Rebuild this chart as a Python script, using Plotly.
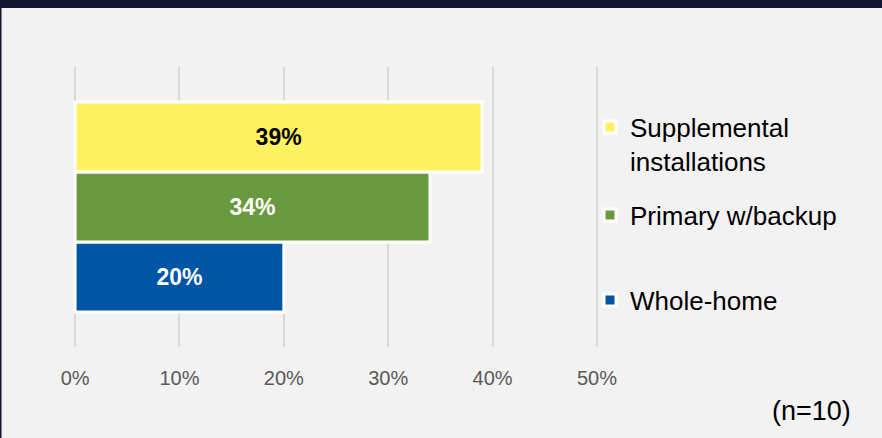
import plotly.graph_objects as go

# Data
series_names = ["Whole-home", "Primary w/backup", "Supplemental<br>installations"]
series_values = [20, 34, 39]
series_colors = ["#0055A5", "#6A9A40", "#FFF15F"]
label_colors = ["#FFFFFF", "#FFFFFF", "#000000"]
legend_ids = ["legend3", "legend2", "legend"]
category = ["All"]
tick_vals = [0, 10, 20, 30, 40, 50]
tick_labels = ["0%", "10%", "20%", "30%", "40%", "50%"]
note_text = "(n=10)"

FONT = "Liberation Sans, Arial, sans-serif"

fig = go.Figure()
for name, val, col, lc, lg in zip(series_names, series_values, series_colors, label_colors, legend_ids):
    fig.add_trace(go.Bar(
        y=category, x=[val], name=name, orientation="h",
        marker=dict(color=col, line=dict(color="#FFFFFF", width=3)),
        text=[f"{val}%"], textposition="inside", insidetextanchor="middle",
        textangle=0,
        textfont=dict(family=FONT, size=23, color=lc, weight="bold"),
        legend=lg, hoverinfo="skip",
    ))

W, H = 882, 438
L, R, T, B = 73, 283, 67, 91
pw, ph = W - L - R, H - T - B

def px_x(x):
    return (x - L) / pw

def px_y(y):
    return (H - B - y) / ph

legend_common = dict(
    font=dict(family=FONT, size=26, color="#000000"),
    bgcolor="rgba(0,0,0,0)", borderwidth=0,
    xanchor="left", yanchor="middle", valign="top",
    itemclick=False, itemdoubleclick=False,
)

fig.update_layout(
    width=W, height=H,
    margin=dict(l=L, r=R, t=T, b=B),
    paper_bgcolor="#F2F2F2", plot_bgcolor="#F2F2F2",
    barmode="group", bargap=0.25, bargroupgap=0,
    showlegend=True,
    legend=dict(x=px_x(590), y=px_y(144), **legend_common),
    legend2=dict(x=px_x(590), y=px_y(215), **legend_common),
    legend3=dict(x=px_x(590), y=px_y(300), **legend_common),
    xaxis=dict(
        range=[-0.2, 50.2], tickmode="array", tickvals=tick_vals, ticktext=tick_labels,
        showgrid=True, gridcolor="#D9D9D9", gridwidth=1.5,
        zeroline=False, showline=False, ticks="",
        ticklabelstandoff=17,
        tickfont=dict(family=FONT, size=20, color="#595959"),
        fixedrange=True,
    ),
    yaxis=dict(
        range=[-0.5, 0.5], showticklabels=False, showgrid=False,
        zeroline=False, showline=False, fixedrange=True,
    ),
    shapes=[
        dict(type="rect", xref="paper", yref="paper",
             x0=px_x(-5), x1=px_x(W + 5), y0=px_y(8), y1=px_y(-5),
             fillcolor="#141432", line=dict(width=0), layer="above"),
        dict(type="rect", xref="paper", yref="paper",
             x0=px_x(-5), x1=px_x(1.5), y0=px_y(H + 5), y1=px_y(-5),
             fillcolor="#141432", line=dict(width=0), layer="above"),
    ],
    annotations=[
        dict(text=note_text, xref="paper", yref="paper",
             x=px_x(853), y=px_y(411), xanchor="right", yanchor="middle",
             showarrow=False, font=dict(family=FONT, size=27, color="#000000")),
    ],
)

fig.write_html(
    "out.html",
    config={"displayModeBar": False},
    post_script="document.body.style.margin='0';document.body.style.overflow='hidden';",
)
